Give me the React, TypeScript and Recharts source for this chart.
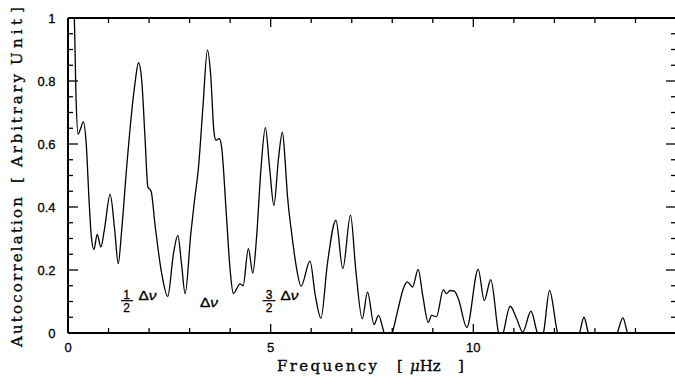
import React from "react";
import { LineChart, Line, XAxis, YAxis } from "recharts";

// Frequency (µHz) and autocorrelation values
const freq = [
  0, 0.155, 0.2, 0.25, 0.3, 0.38, 0.45, 0.52, 0.58, 0.64, 0.72, 0.81, 0.9, 1.04, 1.15, 1.24,
  1.32, 1.45, 1.57, 1.65, 1.74, 1.82, 1.9, 1.97, 2.05, 2.15, 2.31, 2.46, 2.6, 2.71, 2.8, 2.89,
  3.03, 3.12, 3.22, 3.33, 3.44, 3.52, 3.6, 3.65, 3.73, 3.79, 3.9, 4.0, 4.08, 4.16, 4.24, 4.32,
  4.45, 4.56, 4.65, 4.76, 4.87, 4.97, 5.08, 5.19, 5.29, 5.36, 5.41, 5.52, 5.62, 5.75, 5.97, 6.1,
  6.24, 6.4, 6.61, 6.78, 6.97, 7.1, 7.26, 7.39, 7.55, 7.66, 7.8, 7.9, 8.0, 8.15, 8.27, 8.37,
  8.5, 8.64, 8.75, 8.89, 8.97, 9.09, 9.26, 9.33, 9.43, 9.53, 9.63, 9.84, 10.12, 10.27, 10.43, 10.62,
  10.68, 10.74, 10.91, 11.07, 11.22, 11.42, 11.58, 11.65, 11.73, 11.88, 12.08, 12.35, 12.62, 12.73, 12.84, 13.2,
  13.55, 13.69, 13.81, 14.4, 15,
];
const acf = [
  1.25, 1.0, 0.74, 0.631, 0.645, 0.67, 0.6, 0.42, 0.3, 0.265, 0.313, 0.273, 0.33, 0.44, 0.33, 0.22,
  0.32, 0.53, 0.7, 0.79, 0.858, 0.8, 0.62, 0.464, 0.45, 0.34, 0.19, 0.116, 0.25, 0.31, 0.22, 0.125,
  0.316, 0.42, 0.527, 0.72, 0.898, 0.82, 0.64, 0.612, 0.617, 0.59, 0.39, 0.2, 0.125, 0.14, 0.156, 0.15,
  0.268, 0.19, 0.3, 0.52, 0.652, 0.53, 0.405, 0.55, 0.638, 0.54, 0.442, 0.315, 0.22, 0.149, 0.228, 0.12,
  0.047, 0.22, 0.358, 0.204, 0.374, 0.2, 0.045, 0.13, 0.027, 0.056, 0.0, -0.03, 0.0, 0.08, 0.14, 0.162,
  0.146, 0.202, 0.12, 0.034, 0.056, 0.052, 0.138, 0.125, 0.135, 0.133, 0.109, 0.018, 0.202, 0.103, 0.169, 0.0,
  -0.03, 0.0, 0.085, 0.045, 0.003, 0.069, 0.0, -0.02, 0.0, 0.135, 0.0, -0.05, 0.0, 0.05, 0.0, -0.05,
  0.0, 0.048, 0.0, -0.05, -0.02,
];

const xTickLabels = [0, 5, 10];
const yTickLabels = [0, 0.2, 0.4, 0.6, 0.8, 1];
const xMinorTicks = [0, 1, 2, 3, 4, 5, 6, 7, 8, 9, 10, 11, 12, 13, 14, 15];
const yMinorTicks = [
  0, 0.05, 0.1, 0.15, 0.2, 0.25, 0.3, 0.35, 0.4, 0.45, 0.5, 0.55, 0.6, 0.65, 0.7, 0.75, 0.8, 0.85, 0.9, 0.95, 1,
];

const data = freq.map((f, i) => ({ f, a: acf[i] }));

const X_MAX = 15;
const serif = "'DejaVu Serif', serif";
const sans = "'Liberation Sans', Arial, sans-serif";
const TICK_W = 1.3;
const HEAVY = { stroke: "#000", strokeWidth: 0.3 };

const near = (v: number, list: number[]) => list.some((t) => Math.abs(t - v) < 1e-6);

function BottomTick(props: any) {
  const { x, y, payload } = props;
  const v = payload.value;
  const major = v % 5 === 0;
  return (
    <g>
      <line x1={x} x2={x} y1={y} y2={y - (major ? 9 : 5)} stroke="#000" strokeWidth={TICK_W} />
      {near(v, xTickLabels) && (
        <text x={x} y={y + 18.5} textAnchor="middle" fontFamily={sans} fontSize={13} fill="#000" {...HEAVY}>
          {v}
        </text>
      )}
    </g>
  );
}

function TopTick(props: any) {
  const { x, y, payload } = props;
  const major = payload.value % 5 === 0;
  return <line x1={x} x2={x} y1={y} y2={y + (major ? 9 : 5)} stroke="#000" strokeWidth={TICK_W} />;
}

function LeftTick(props: any) {
  const { x, y, payload } = props;
  const v = payload.value;
  const major = near(v, yTickLabels);
  return (
    <g>
      <line x1={x} x2={x + (major ? 10 : 5)} y1={y} y2={y} stroke="#000" strokeWidth={TICK_W} />
      {major && (
        <text x={x - 12.5} y={y + 4.6} textAnchor="end" fontFamily={sans} fontSize={13} fill="#000" {...HEAVY}>
          {String(v)}
        </text>
      )}
    </g>
  );
}

function RightTick(props: any) {
  const { x, y, payload } = props;
  const major = near(payload.value, yTickLabels);
  return <line x1={x} x2={x - (major ? 10 : 5)} y1={y} y2={y} stroke="#000" strokeWidth={TICK_W} />;
}

export default function App() {
  const axisLine = { stroke: "#000", strokeWidth: 2 };
  return (
    <div style={{ position: "absolute", left: 0, top: 0, width: 675, height: 387, overflow: "hidden", background: "#fff" }}>
      <LineChart width={690} height={387} data={data} margin={{ top: 17, right: 13, left: 0, bottom: 0 }}>
        <XAxis
          dataKey="f"
          type="number"
          domain={[0, X_MAX]}
          ticks={xMinorTicks}
          interval={0}
          allowDataOverflow
          height={54}
          tickSize={0}
          tickMargin={0}
          tickLine={false}
          axisLine={axisLine}
          tick={<BottomTick />}
        />
        <XAxis
          xAxisId="top"
          orientation="top"
          dataKey="f"
          type="number"
          domain={[0, X_MAX]}
          ticks={xMinorTicks}
          interval={0}
          allowDataOverflow
          height={1}
          tickSize={0}
          tickMargin={0}
          tickLine={false}
          axisLine={axisLine}
          tick={<TopTick />}
        />
        <YAxis
          type="number"
          domain={[0, 1]}
          ticks={yMinorTicks}
          interval={0}
          allowDataOverflow
          width={68}
          tickSize={0}
          tickMargin={0}
          tickLine={false}
          axisLine={axisLine}
          tick={<LeftTick />}
        />
        <YAxis
          yAxisId="right"
          orientation="right"
          type="number"
          domain={[0, 1]}
          ticks={yMinorTicks}
          interval={0}
          allowDataOverflow
          width={1}
          tickSize={0}
          tickMargin={0}
          tickLine={false}
          axisLine={false}
          tick={<RightTick />}
        />
        <Line
          type="monotone"
          dataKey="a"
          stroke="#000"
          strokeWidth={1.3}
          dot={false}
          isAnimationActive={false}
        />
      </LineChart>
      <svg
        width={675}
        height={387}
        style={{ position: "absolute", left: 0, top: 0, pointerEvents: "none" }}
      >
        {/* x-axis title */}
        <text fontFamily={serif} fontSize={15} fill="#000" y={371} {...HEAVY}>
          <tspan x={277} textLength={100} lengthAdjust="spacing">Frequency</tspan>
          <tspan x={397}>[</tspan>
          <tspan x={410} fontStyle="italic">μ</tspan>
          <tspan>Hz</tspan>
          <tspan x={458}>]</tspan>
        </text>
        {/* y-axis title */}
        <text fontFamily={serif} fontSize={15} fill="#000" transform="translate(21.5,347) rotate(-90)" {...HEAVY}>
          <tspan x={0} y={0} textLength={150} lengthAdjust="spacing">Autocorrelation</tspan>
          <tspan x={164} y={0}>[</tspan>
          <tspan x={180} y={0} textLength={93} lengthAdjust="spacing">Arbitrary</tspan>
          <tspan x={282} y={0} textLength={46} lengthAdjust="spacing">Unit</tspan>
          <tspan x={334} y={0}>]</tspan>
        </text>
        {/* annotations */}
        <g fontFamily={sans} fill="#000" {...HEAVY}>
          <text x={126.5} y={298.5} fontSize={12} textAnchor="middle">1</text>
          <line x1={121} x2={133} y1={300.7} y2={300.7} stroke="#000" strokeWidth={1.2} />
          <text x={126.5} y={311.5} fontSize={12} textAnchor="middle">2</text>
          <text x={138.5} y={299.5} fontSize={12.5} textLength={18} lengthAdjust="spacingAndGlyphs">Δ<tspan fontStyle="italic">ν</tspan></text>

          <text x={200} y={306.5} fontSize={12.5} textLength={18} lengthAdjust="spacingAndGlyphs">Δ<tspan fontStyle="italic">ν</tspan></text>

          <text x={269} y={298.5} fontSize={12} textAnchor="middle">3</text>
          <line x1={262.5} x2={275.5} y1={300.7} y2={300.7} stroke="#000" strokeWidth={1.2} />
          <text x={269} y={311.5} fontSize={12} textAnchor="middle">2</text>
          <text x={280.5} y={299.5} fontSize={12.5} textLength={18} lengthAdjust="spacingAndGlyphs">Δ<tspan fontStyle="italic">ν</tspan></text>
        </g>
      </svg>
    </div>
  );
}
